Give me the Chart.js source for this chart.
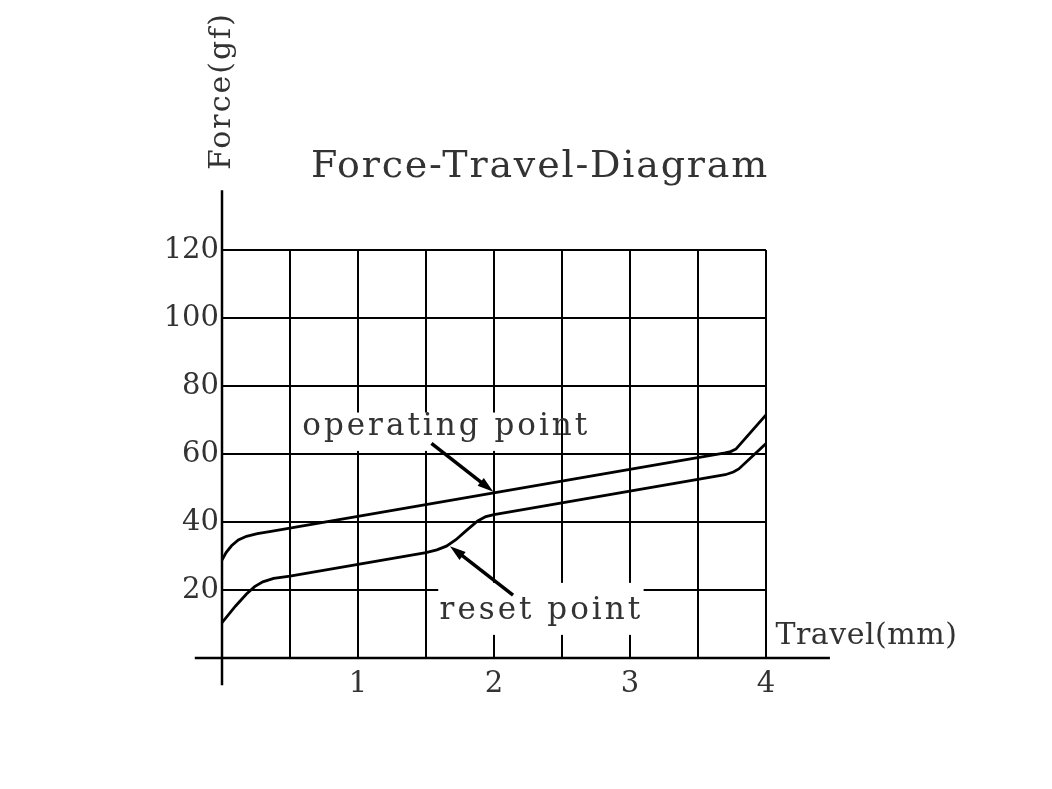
<!DOCTYPE html>
<html>
<head>
<meta charset="utf-8">
<title>Force-Travel-Diagram</title>
<script src="https://cdn.jsdelivr.net/npm/chart.js@4/dist/chart.umd.min.js"></script>
<style>
  html, body { margin: 0; padding: 0; background: #fff; }
  #wrap { width: 1052px; height: 789px; position: relative; }
</style>
</head>
<body>
<div id="wrap"><canvas id="forceChart"></canvas></div>
<script>
// travel (mm) / force (gf)
const operatingTravel = [0, 0.03, 0.07, 0.12, 0.18, 0.26, 0.35, 3.70, 3.74, 3.78, 4.0];
const operatingForce  = [28.8, 31.0, 33.0, 34.7, 35.8, 36.6, 37.2, 60.3, 60.7, 61.5, 71.5];

const resetTravel = [0, 0.1, 0.18, 0.24, 0.3, 0.38, 0.5, 1.5, 1.58, 1.65, 1.72, 1.8, 1.88, 1.94, 2.0, 3.7, 3.76, 3.8, 4.0];
const resetForce  = [10.4, 15.3, 18.8, 21.0, 22.4, 23.4, 24.1, 31.0, 31.8, 32.9, 34.8, 37.6, 40.3, 41.6, 42.2, 53.9, 54.7, 55.6, 63.1];

const xTicks = [1, 2, 3, 4];
const yTicks = [20, 40, 60, 80, 100, 120];

// annotations, in data units
const operatingLabel = { text: 'operating point', x: 0.59, y: 67.9 };
const operatingBox = [0.56, 2.45, 60.9, 72.2];
const operatingArrow = [1.54, 63.1, 1.995, 48.9];   // tail x,y -> tip x,y

const resetLabel = { text: 'reset point', x: 1.60, y: 13.8 };
const resetBox = [1.59, 3.10, 6.8, 22.1];
const resetArrow = [2.14, 18.5, 1.676, 32.9];

const xAxisSpan = [-0.2, 4.47];
const yAxisSpan = [-8, 137.6];

const FONT = "'DejaVu Serif', 'Liberation Serif', serif";
const TEXT = '#333';

function toPoints(xs, ys) {
    return xs.map((x, i) => ({ x: x, y: ys[i] }));
}

function drawArrow(ctx, x1, y1, x2, y2) {
    const ang = Math.atan2(y2 - y1, x2 - x1);
    const len = 16, half = 5;
    ctx.beginPath();
    ctx.moveTo(x1, y1);
    ctx.lineTo(x2 - Math.cos(ang) * len * 0.8, y2 - Math.sin(ang) * len * 0.8);
    ctx.lineWidth = 3.5;
    ctx.strokeStyle = '#000';
    ctx.stroke();
    ctx.beginPath();
    ctx.moveTo(x2, y2);
    ctx.lineTo(x2 - Math.cos(ang) * len + Math.sin(ang) * half, y2 - Math.sin(ang) * len - Math.cos(ang) * half);
    ctx.lineTo(x2 - Math.cos(ang) * len - Math.sin(ang) * half, y2 - Math.sin(ang) * len + Math.cos(ang) * half);
    ctx.closePath();
    ctx.fillStyle = '#000';
    ctx.fill();
}

const diagramExtras = {
    id: 'diagramExtras',
    beforeDatasetsDraw(chart) {
        const { ctx, scales: { x, y } } = chart;
        ctx.save();
        // white patches behind the two labels
        ctx.fillStyle = '#fff';
        [operatingBox, resetBox].forEach(b => {
            const l = x.getPixelForValue(b[0]), r = x.getPixelForValue(b[1]);
            const bt = y.getPixelForValue(b[3]), bb = y.getPixelForValue(b[2]);
            ctx.fillRect(l, bt, r - l, bb - bt);
        });
        ctx.fillStyle = TEXT;
        ctx.font = '31px ' + FONT;
        ctx.letterSpacing = '3px';
        ctx.textBaseline = 'middle';
        ctx.textAlign = 'left';
        [operatingLabel, resetLabel].forEach(lb => {
            ctx.fillText(lb.text, x.getPixelForValue(lb.x), y.getPixelForValue(lb.y));
        });
        ctx.restore();
    },
    afterDatasetsDraw(chart) {
        const { ctx, scales: { x, y } } = chart;
        ctx.save();

        // axis lines running past the grid
        ctx.strokeStyle = '#000';
        ctx.lineWidth = 2.5;
        ctx.beginPath();
        ctx.moveTo(x.getPixelForValue(xAxisSpan[0]), y.getPixelForValue(0));
        ctx.lineTo(x.getPixelForValue(xAxisSpan[1]), y.getPixelForValue(0));
        ctx.moveTo(x.getPixelForValue(0), y.getPixelForValue(yAxisSpan[0]));
        ctx.lineTo(x.getPixelForValue(0), y.getPixelForValue(yAxisSpan[1]));
        ctx.stroke();

        [operatingArrow, resetArrow].forEach(a => {
            drawArrow(ctx,
                x.getPixelForValue(a[0]), y.getPixelForValue(a[1]),
                x.getPixelForValue(a[2]), y.getPixelForValue(a[3]));
        });

        ctx.fillStyle = TEXT;
        ctx.textBaseline = 'middle';

        // title
        ctx.font = '38px ' + FONT;
        ctx.letterSpacing = '1.8px';
        ctx.textAlign = 'center';
        ctx.fillText('Force-Travel-Diagram', 540, 167);

        // axis names
        ctx.font = '30px ' + FONT;
        ctx.letterSpacing = '0.5px';
        ctx.textAlign = 'left';
        ctx.fillText('Travel(mm)', x.getPixelForValue(4.07), y.getPixelForValue(6.5));

        ctx.letterSpacing = '2px';
        ctx.translate(x.getPixelForValue(0), 91);
        ctx.rotate(-Math.PI / 2);
        ctx.textAlign = 'center';
        ctx.fillText('Force(gf)', 0, 0);
        ctx.restore();
    }
};

const ctx = document.getElementById('forceChart').getContext('2d');

const forceChart = new Chart(ctx, {
    type: 'line',
    data: {
        datasets: [
            {
                label: 'operating point',
                data: toPoints(operatingTravel, operatingForce),
                borderColor: '#000',
                borderWidth: 2.8,
                pointRadius: 0,
                tension: 0,
                fill: false
            },
            {
                label: 'reset point',
                data: toPoints(resetTravel, resetForce),
                borderColor: '#000',
                borderWidth: 2.8,
                pointRadius: 0,
                tension: 0,
                fill: false
            }
        ]
    },
    options: {
        responsive: true,
        maintainAspectRatio: false,
        animation: false,
        layout: { padding: { top: 250, right: 286, left: 0, bottom: 0 } },
        plugins: {
            legend: { display: false },
            tooltip: { enabled: false },
            title: { display: false }
        },
        scales: {
            x: {
                type: 'linear',
                min: 0,
                max: 4,
                afterFit: s => { s.height = 131; },
                grid: { color: '#000', lineWidth: 2, drawTicks: false },
                border: { color: '#000', width: 2 },
                ticks: {
                    stepSize: 0.5,
                    autoSkip: false,
                    maxRotation: 0,
                    padding: 9,
                    color: TEXT,
                    font: { family: FONT, size: 29 },
                    callback: v => xTicks.includes(v) ? String(v) : ''
                }
            },
            y: {
                min: 0,
                max: 120,
                afterFit: s => { s.width = 222; },
                grid: { color: '#000', lineWidth: 2, drawTicks: false },
                border: { color: '#000', width: 2 },
                ticks: {
                    stepSize: 20,
                    padding: 3,
                    color: TEXT,
                    font: { family: FONT, size: 29 },
                    callback: v => yTicks.includes(v) ? String(v) : ''
                }
            }
        }
    },
    plugins: [diagramExtras]
});
</script>
</body>
</html>
